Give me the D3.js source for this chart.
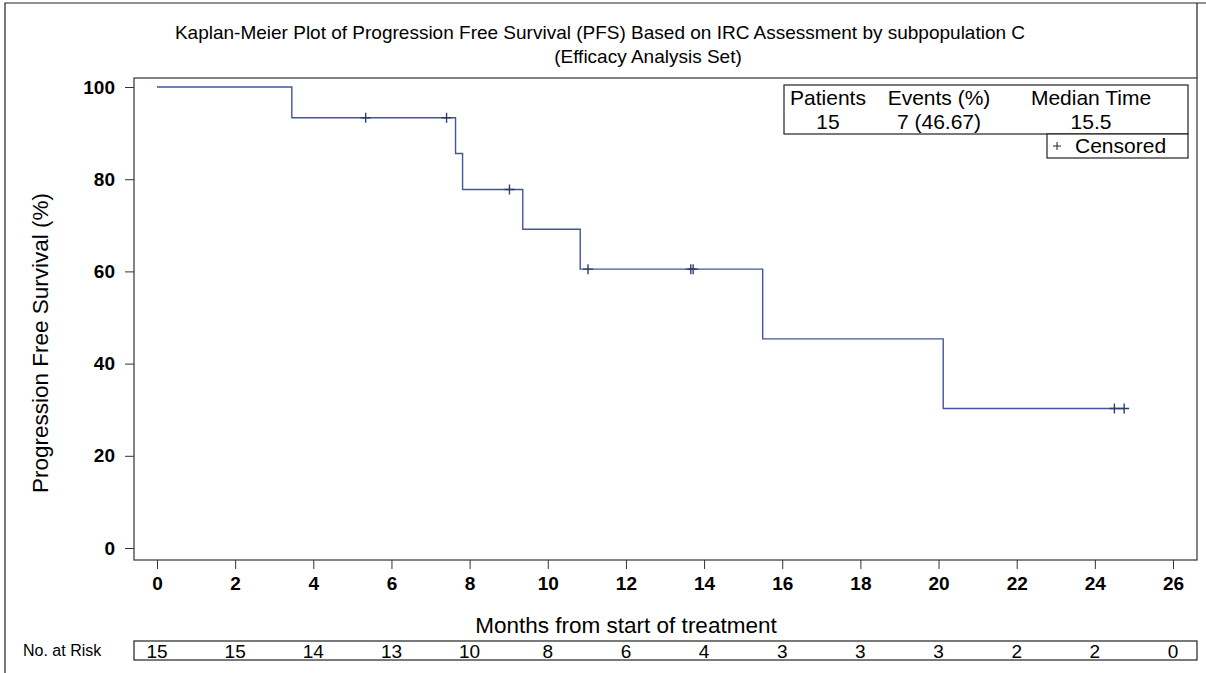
<!DOCTYPE html>
<html>
<head>
<meta charset="utf-8">
<script src="https://cdn.jsdelivr.net/npm/d3@7"></script>
<style>
  body { margin: 0; background: #fff; }
  svg text { font-family: "Liberation Sans", Arial, sans-serif; }
</style>
</head>
<body>
<div class="km-container"></div>
<script>
// KM step values (months, % PFS)
const step_times = [0, 3.45, 7.64, 7.82, 9.36, 10.83, 15.5, 20.12];
const step_surv  = [100, 93.33, 85.56, 77.78, 69.14, 60.49, 45.37, 30.25];
const last_time = 24.75;
// censored marks
const censor_times = [5.34, 7.41, 9.02, 11.03, 13.66, 13.72, 24.5, 24.75];
const censor_surv  = [93.33, 93.33, 77.78, 60.49, 60.49, 60.49, 30.25, 30.25];
// axes
const x_ticks = [0, 2, 4, 6, 8, 10, 12, 14, 16, 18, 20, 22, 24, 26];
const y_ticks = [0, 20, 40, 60, 80, 100];
// number at risk at each x tick
const at_risk = [15, 15, 14, 13, 10, 8, 6, 4, 3, 3, 3, 2, 2, 0];
// summary table
const stat_headers = ['Patients', 'Events (%)', 'Median Time'];
const stat_values  = ['15', '7 (46.67)', '15.5'];

const svg_width = 1206, svg_height = 673;
const plot = {left: 134, right: 1197, top: 78, bottom: 560};
const line_color = '#44559a';

const svg = d3.select('.km-container')
    .append('svg')
    .attr('width', svg_width)
    .attr('height', svg_height);

// outer frame
svg.append('path')
    .attr('d', `M5,${svg_height} V3 H${svg_width} M${plot.right},3 V${plot.top}`)
    .style('fill', 'none')
    .style('stroke', '#222')
    .style('stroke-width', 1.2);

// title
const header = svg.append('g').attr('class', 'header');
header.append('text')
    .attr('x', 600).attr('y', 39)
    .attr('text-anchor', 'middle')
    .style('font-size', '19px')
    .text('Kaplan-Meier Plot of Progression Free Survival (PFS) Based on IRC Assessment by subpopulation C');
header.append('text')
    .attr('x', 648).attr('y', 63)
    .attr('text-anchor', 'middle')
    .style('font-size', '19px')
    .text('(Efficacy Analysis Set)');

// scales
const x_scale = d3.scaleLinear().domain([0, 26]).range([157, 1173]);
const y_scale = d3.scaleLinear().domain([0, 100]).range([548, 87]);

// plot frame
svg.append('rect')
    .attr('x', plot.left).attr('y', plot.top)
    .attr('width', plot.right - plot.left)
    .attr('height', plot.bottom - plot.top)
    .style('fill', 'none')
    .style('stroke', '#333')
    .style('stroke-width', 1.2);

// x axis
const x_axis = d3.axisBottom(x_scale)
    .tickValues(x_ticks)
    .tickSizeInner(9)
    .tickSizeOuter(0)
    .tickPadding(8);
const xg = svg.append('g')
    .attr('class', 'x axis')
    .attr('transform', `translate(0, ${plot.bottom})`)
    .call(x_axis);
xg.select('.domain').remove();
xg.selectAll('.tick line').style('stroke', '#333');
xg.selectAll('.tick text')
    .style('font-size', '19px')
    .style('font-weight', 'bold')
    .style('fill', '#000');

// y axis
const y_axis = d3.axisLeft(y_scale)
    .tickValues(y_ticks)
    .tickSizeInner(9)
    .tickSizeOuter(0)
    .tickPadding(10);
const yg = svg.append('g')
    .attr('class', 'y axis')
    .attr('transform', `translate(${plot.left}, 0)`)
    .call(y_axis);
yg.select('.domain').remove();
yg.selectAll('.tick line').style('stroke', '#333');
yg.selectAll('.tick text')
    .style('font-size', '19px')
    .style('font-weight', 'bold')
    .style('fill', '#000');

// axis labels
svg.append('text')
    .attr('transform', 'translate(48, 343) rotate(-90)')
    .attr('text-anchor', 'middle')
    .style('font-size', '22.5px')
    .text('Progression Free Survival (%)');
svg.append('text')
    .attr('x', 626).attr('y', 633)
    .attr('text-anchor', 'middle')
    .style('font-size', '22.5px')
    .text('Months from start of treatment');

// KM curve
const km_points = step_times.map((t, i) => ({t: t, s: step_surv[i]}));
km_points.push({t: last_time, s: step_surv[step_surv.length - 1]});
const line_generator = d3.line()
    .x(d => x_scale(d.t))
    .y(d => y_scale(d.s))
    .curve(d3.curveStepAfter);
svg.append('path')
    .attr('class', 'km-line')
    .attr('d', line_generator(km_points))
    .style('fill', 'none')
    .style('stroke', line_color)
    .style('stroke-width', 1.4);

// censor marks
const censor_data = censor_times.map((t, i) => ({t: t, s: censor_surv[i]}));
svg.append('g')
    .attr('class', 'censor')
    .selectAll('path')
    .data(censor_data)
    .enter()
    .append('path')
    .attr('d', d => {
        const cx = x_scale(d.t), cy = y_scale(d.s);
        return `M${cx - 5},${cy} H${cx + 5} M${cx},${cy - 5} V${cy + 5}`;
    })
    .style('fill', 'none')
    .style('stroke', '#2e3d70')
    .style('stroke-width', 1.4);

// stats table
const stat_box = svg.append('g').attr('class', 'stats');
stat_box.append('rect')
    .attr('x', 784).attr('y', 85)
    .attr('width', 1188 - 784).attr('height', 134 - 85)
    .style('fill', '#fff')
    .style('stroke', '#222')
    .style('stroke-width', 1.2);
const stat_cols = [828, 939, 1091];
stat_box.selectAll('.stat-head')
    .data(stat_headers)
    .enter()
    .append('text')
    .attr('x', (d, i) => stat_cols[i])
    .attr('y', 105)
    .attr('text-anchor', 'middle')
    .style('font-size', '21px')
    .text(d => d);
stat_box.selectAll('.stat-val')
    .data(stat_values)
    .enter()
    .append('text')
    .attr('x', (d, i) => stat_cols[i])
    .attr('y', 129)
    .attr('text-anchor', 'middle')
    .style('font-size', '21px')
    .text(d => d);

// censored legend
const legend = svg.append('g').attr('class', 'legend');
legend.append('rect')
    .attr('x', 1047).attr('y', 134)
    .attr('width', 1188 - 1047).attr('height', 158 - 134)
    .style('fill', '#fff')
    .style('stroke', '#222')
    .style('stroke-width', 1.2);
legend.append('path')
    .attr('d', 'M1053,146 H1061 M1057,142 V150')
    .style('stroke', '#222')
    .style('stroke-width', 1);
legend.append('text')
    .attr('x', 1075).attr('y', 153)
    .style('font-size', '21px')
    .text('Censored');

// number at risk
svg.append('text')
    .attr('x', 23).attr('y', 656)
    .style('font-size', '16px')
    .text('No. at Risk');
svg.append('rect')
    .attr('x', plot.left).attr('y', 641)
    .attr('width', plot.right - plot.left).attr('height', 19)
    .style('fill', 'none')
    .style('stroke', '#222')
    .style('stroke-width', 1.2);
svg.append('g')
    .attr('class', 'at-risk')
    .selectAll('text')
    .data(at_risk)
    .enter()
    .append('text')
    .attr('x', (d, i) => x_scale(x_ticks[i]))
    .attr('y', 658)
    .attr('text-anchor', 'middle')
    .style('font-size', '19px')
    .text(d => d);
</script>
</body>
</html>
